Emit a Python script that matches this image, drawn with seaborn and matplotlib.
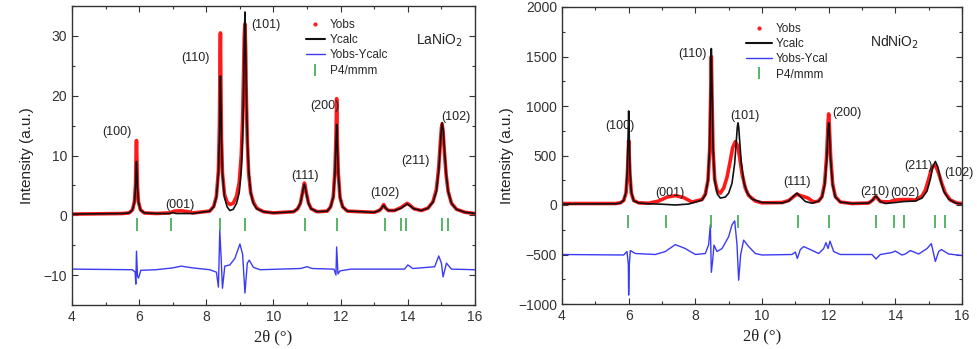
import numpy as np
import pandas as pd
import matplotlib
matplotlib.use("Agg")
import matplotlib.pyplot as plt
from matplotlib.lines import Line2D
from matplotlib.ticker import MultipleLocator
import seaborn as sns

sns.set_theme(style="white")
plt.rcParams['font.family'] = ['Liberation Sans', 'DejaVu Sans']

# ---------------- LaNiO2 (left) ----------------
la_calc_x = [4, 5.5, 5.7, 5.8, 5.86, 5.89, 5.91, 5.92, 5.93, 5.95, 5.98, 6.04, 6.15, 6.5, 6.9, 7.0, 7.1, 7.6,
             8.1, 8.22, 8.3, 8.36, 8.39, 8.41, 8.42, 8.43, 8.45, 8.48, 8.54, 8.62, 8.7,
             8.8, 8.9, 8.98, 9.04, 9.08, 9.11, 9.13, 9.15, 9.17, 9.19, 9.22, 9.26, 9.32, 9.4, 9.5, 9.7,
             10.0, 10.6, 10.72, 10.8, 10.86, 10.9, 10.92, 10.94, 10.98, 11.04, 11.12, 11.3,
             11.6, 11.7, 11.78, 11.83, 11.86, 11.88, 11.9, 11.93, 11.98, 12.06, 12.2,
             13.0, 13.15, 13.22, 13.28, 13.34, 13.42, 13.6, 13.8, 13.9, 13.98, 14.06, 14.18, 14.4,
             14.6, 14.75, 14.85, 14.92, 14.97, 15.0, 15.02, 15.05, 15.09, 15.14, 15.2, 15.3, 15.45, 15.7, 16]
la_calc_y = [0.2, 0.3, 0.4, 0.9, 2.2, 4.5, 7.8, 9, 7.8, 4.5, 2.2, 0.9, 0.4, 0.3, 0.3, 0.45, 0.3, 0.3,
             0.7, 1.4, 3, 7, 13, 21, 23.3, 21, 13, 7, 3, 1.4, 0.8,
             1.0, 2.0, 3.8, 7.5, 13, 21, 29, 34, 29, 21, 13, 7.5, 3.8, 2.0, 1.1, 0.6,
             0.4, 0.6, 1.1, 2, 3.6, 4.8, 5.2, 4.8, 3.6, 2, 1.1, 0.6,
             0.7, 1.4, 3, 7, 12, 15.2, 12, 7, 3, 1.4, 0.7,
             0.5, 0.8, 1.2, 1.7, 1.2, 0.8, 0.8, 1.2, 1.6, 1.9, 1.6, 1.1, 0.8,
             1.2, 2.2, 4, 7.5, 12, 14.5, 15.5, 14.5, 11, 7, 4, 2, 1, 0.5, 0.3]
la_obs_x = [4, 5.5, 5.7, 5.8, 5.86, 5.89, 5.91, 5.92, 5.93, 5.95, 5.98, 6.04, 6.15, 6.5, 6.9, 7.05, 7.25, 7.45,
            7.6, 8.1, 8.22, 8.3, 8.36, 8.39, 8.41, 8.42, 8.43, 8.45, 8.48, 8.54, 8.62, 8.7,
            8.8, 8.9, 8.98, 9.04, 9.08, 9.11, 9.13, 9.15, 9.17, 9.19, 9.22, 9.26, 9.32, 9.4, 9.5, 9.7,
            10.0, 10.6, 10.72, 10.8, 10.86, 10.9, 10.92, 10.94, 10.98, 11.04, 11.12, 11.3,
            11.6, 11.7, 11.78, 11.83, 11.86, 11.87, 11.88, 11.89, 11.9, 11.93, 11.98, 12.06, 12.2,
            13.0, 13.15, 13.22, 13.28, 13.34, 13.42, 13.6, 13.8, 13.9, 13.98, 14.06, 14.18, 14.4,
            14.6, 14.75, 14.85, 14.92, 14.97, 15.0, 15.02, 15.05, 15.09, 15.14, 15.2, 15.3, 15.45, 15.7, 16]
la_obs_y = [0.2, 0.3, 0.4, 0.9, 2.3, 5, 10.5, 12.5, 10, 4.8, 2.2, 0.9, 0.4, 0.3, 0.4, 0.7, 0.75, 0.6,
            0.4, 0.7, 1.5, 3.2, 7.5, 15, 27, 30.5, 24, 13, 7, 3.5, 2.2, 1.8,
            2.0, 3.2, 5.5, 10, 16, 24, 30, 32, 28, 20, 12.5, 7, 3.8, 2.2, 1.2, 0.6,
            0.4, 0.6, 1.1, 2, 3.7, 5, 5.4, 5, 3.7, 2.1, 1.1, 0.6,
            0.7, 1.4, 3.1, 7.5, 13, 16, 19.5, 16, 12.5, 7, 3, 1.4, 0.7,
            0.5, 0.8, 1.2, 1.8, 1.2, 0.8, 0.8, 1.3, 1.7, 2.0, 1.7, 1.1, 0.8,
            1.2, 2.3, 4.3, 8, 12.3, 14.6, 15.3, 14, 10.5, 6.8, 4, 2, 1, 0.5, 0.3]
la_diff_x = [4, 5.8, 5.88, 5.9, 5.92, 5.95, 5.98, 6.05, 6.5, 7.0, 7.25, 7.6, 8.1, 8.3, 8.36, 8.4, 8.44, 8.48,
             8.55, 8.7, 8.85, 9.0, 9.08, 9.15, 9.22, 9.28, 9.4, 9.6, 10.8, 11.0, 11.15, 11.8, 11.86, 11.88,
             11.92, 11.98, 12.3, 13.9, 14.0, 14.15, 14.8, 14.92, 15.0, 15.05, 15.15, 15.3, 16]
la_diff_y = [-9, -9.1, -9.5, -11.5, -6, -10.2, -10.5, -9.2, -9.1, -8.8, -8.5, -8.8, -9.1, -9.5, -12, -2.5, -7,
             -12.2, -8.5, -8.3, -7.2, -4.8, -6.5, -13, -8, -7.5, -8.7, -9.1, -8.9, -8.6, -8.9, -9, -10,
             -5.3, -9.8, -9.3, -9, -9, -8.3, -8.9, -8.6, -6.8, -8, -10.3, -8, -9, -9.1]
la_ticks = [5.93, 6.96, 8.42, 9.16, 10.93, 11.90, 13.31, 13.81, 13.96, 15.03, 15.19]
la_hkl = ["(100)", "(001)", "(110)", "(101)", "(111)", "(200)", "(102)", "(211)", "(102)"]
la_hkl_x = [5.34, 7.2, 7.67, 9.76, 10.93, 11.52, 13.31, 14.24, 15.43]
la_hkl_y = [14, 1.7, 26.3, 31.8, 6.5, 18.3, 3.7, 9, 16.5]

# ---------------- NdNiO2 (right) ----------------
nd_calc_x = [4, 5.6, 5.75, 5.85, 5.92, 5.96, 5.99, 6.0, 6.01, 6.04, 6.08, 6.15, 6.3, 6.6, 7.0, 7.4, 7.8,
             8.2, 8.3, 8.38, 8.43, 8.46, 8.48, 8.5, 8.53, 8.58, 8.66, 8.75,
             8.9, 9.0, 9.1, 9.18, 9.23, 9.26, 9.28, 9.3, 9.33, 9.38, 9.46, 9.56, 9.7, 10.0,
             10.6, 10.8, 10.95, 11.05, 11.15, 11.3, 11.5,
             11.7, 11.8, 11.88, 11.94, 11.98, 12.0, 12.02, 12.06, 12.12, 12.2, 12.35, 12.7,
             13.2, 13.32, 13.38, 13.42, 13.46, 13.55, 13.7, 14.0, 14.25, 14.6,
             14.8, 14.95, 15.05, 15.12, 15.2, 15.28, 15.35, 15.45, 15.6, 15.8, 16]
nd_calc_y = [10, 12, 20, 45, 130, 350, 800, 950, 800, 350, 130, 45, 20, 12, 8, 0, 10,
             50, 100, 250, 600, 1200, 1580, 1200, 600, 250, 110, 70,
             80, 120, 220, 420, 650, 790, 830, 790, 650, 420, 220, 120, 60, 25,
             20, 40, 90, 120, 85, 35, 18,
             40, 80, 200, 450, 750, 830, 750, 450, 200, 80, 30, 15,
             20, 50, 80, 90, 75, 35, 15, 25, 35, 40,
             70, 140, 260, 380, 440, 380, 260, 140, 60, 20, 10]
nd_obs_x = [4, 5.6, 5.75, 5.85, 5.92, 5.96, 5.99, 6.0, 6.01, 6.04, 6.08, 6.15, 6.3, 6.6, 6.9, 7.15, 7.4,
            7.65, 7.9, 8.2, 8.3, 8.38, 8.43, 8.46, 8.48, 8.5, 8.53, 8.58, 8.66, 8.75,
            8.85, 8.95, 9.05, 9.12, 9.2, 9.27, 9.33, 9.4, 9.5, 9.6, 9.8, 10.0,
            10.6, 10.8, 10.95, 11.05, 11.15, 11.25, 11.38, 11.55,
            11.7, 11.8, 11.88, 11.94, 11.98, 12.0, 12.02, 12.06, 12.12, 12.2, 12.35, 12.7,
            13.2, 13.32, 13.38, 13.42, 13.46, 13.55, 13.8, 14.0, 14.2, 14.4, 14.6,
            14.8, 14.9, 15.0, 15.08, 15.15, 15.22, 15.3, 15.4, 15.5, 15.65, 15.85, 16]
nd_obs_y = [15, 15, 22, 45, 120, 300, 560, 650, 550, 300, 120, 45, 22, 18, 40, 80, 95,
            75, 30, 55, 110, 250, 560, 1100, 1500, 1100, 560, 260, 140, 120,
            170, 280, 450, 580, 640, 600, 480, 320, 170, 95, 40, 22,
            25, 45, 85, 110, 95, 85, 70, 30,
            40, 85, 220, 500, 820, 920, 800, 480, 210, 85, 30, 15,
            20, 50, 75, 85, 70, 35, 30, 50, 55, 55, 50,
            90, 150, 260, 360, 400, 390, 320, 210, 120, 50, 20, 15]
nd_diff_x = [4, 5.85, 5.95, 5.99, 6.0, 6.02, 6.05, 6.2, 6.8, 7.1, 7.4, 7.7, 8.0, 8.3, 8.4, 8.45, 8.48, 8.52,
             8.56, 8.65, 8.8, 9.0, 9.1, 9.18, 9.25, 9.3, 9.36, 9.45, 9.6, 9.8, 10.0, 10.9, 11.0, 11.06,
             11.15, 11.25, 11.45, 11.7, 11.85, 11.92, 11.98, 12.04, 12.15, 12.35, 13.3, 13.42, 13.55, 13.9,
             14.0, 14.2, 14.3, 14.45, 14.7, 14.95, 15.08, 15.2, 15.3, 15.38, 15.6, 16]
nd_diff_y = [-500, -505, -470, -600, -910, -600, -460, -490, -500, -470, -400, -440, -500, -490, -400, -200,
             -680, -560, -405, -470, -440, -320, -200, -160, -400, -760, -500, -355, -420, -490, -505,
             -500, -475, -540, -450, -420, -450, -490, -440, -380, -440, -365, -470, -500, -500, -545,
             -500, -480, -465, -505, -495, -460, -495, -440, -390, -570, -470, -450, -495, -510]
nd_ticks = [5.99, 7.12, 8.47, 9.29, 11.08, 12.01, 13.43, 13.97, 14.27, 15.20, 15.50]
nd_hkl = ["(100)", "(001)", "(110)", "(101)", "(111)", "(200)", "(210)", "(002)", "(211)", "(102)"]
nd_hkl_x = [5.74, 7.24, 7.9, 9.5, 11.05, 12.56, 13.4, 14.3, 14.69, 15.92]
nd_hkl_y = [794, 125, 1521, 903, 236, 930, 135, 125, 395, 325]

RED, BLACK, BLUE, GREEN = "#ff1a1a", "#111111", "#3b3bf5", "#3aa84a"

fig = plt.figure(figsize=(9.77, 3.49), dpi=100)
axL = fig.add_axes([72/977, 44/349, 403/977, 299/349])
axR = fig.add_axes([562/977, 45/349, 400/977, 297/349])


def panel(ax, ox, oy, cx, cy, dx, dy, ticks, tick_lo, tick_hi, hkl, hx, hy, ylim, ymaj, ymin):
    sns.lineplot(x=ox, y=oy, ax=ax, color=RED, lw=2.6, legend=False)
    sns.lineplot(x=cx, y=cy, ax=ax, color=BLACK, lw=1.2, legend=False)
    sns.lineplot(x=dx, y=dy, ax=ax, color=BLUE, lw=1.0, legend=False)
    ax.vlines(ticks, tick_lo, tick_hi, color=GREEN, lw=1.2)
    for t, x, y in zip(hkl, hx, hy):
        ax.text(x, y, t, ha="center", va="center", fontsize=9, color="#222222")
    ax.set_xlim(4, 16)
    ax.set_ylim(*ylim)
    ax.xaxis.set_major_locator(MultipleLocator(2))
    ax.xaxis.set_minor_locator(MultipleLocator(1))
    ax.yaxis.set_major_locator(MultipleLocator(ymaj))
    ax.yaxis.set_minor_locator(MultipleLocator(ymin))
    ax.tick_params(which="both", direction="in", top=True, right=True, bottom=True, left=True,
                   labelsize=10, colors="#333333")
    ax.tick_params(which="major", length=4, width=0.8)
    ax.tick_params(which="minor", length=2.5, width=0.8)
    for s in ax.spines.values():
        s.set_color("#333333")
        s.set_linewidth(1.0)
    ax.set_xlabel("2θ (°)", fontsize=12, family=["Liberation Serif", "DejaVu Serif"], color="#222222")
    ax.set_ylabel("Intensity (a.u.)", fontsize=11, color="#222222")


panel(axL, la_obs_x, la_obs_y, la_calc_x, la_calc_y, la_diff_x, la_diff_y, la_ticks, -0.4, -2.6,
      la_hkl, la_hkl_x, la_hkl_y, (-15, 35), 10, 5)
panel(axR, nd_obs_x, nd_obs_y, nd_calc_x, nd_calc_y, nd_diff_x, nd_diff_y, nd_ticks, -100, -235,
      nd_hkl, nd_hkl_x, nd_hkl_y, (-1000, 2000), 500, 250)

axL.text(14.24, 29.3, "LaNiO$_2$", fontsize=10, ha="left", va="center", color="#222222")
axR.text(13.25, 1643, "NdNiO$_2$", fontsize=10, ha="left", va="center", color="#222222")


def handles(lab3):
    return [Line2D([], [], ls="none", marker="o", ms=2, color=RED, label="Yobs"),
            Line2D([], [], color=BLACK, lw=1.5, label="Ycalc"),
            Line2D([], [], color=BLUE, lw=1.0, label=lab3),
            Line2D([], [], ls="none", marker="|", ms=9, mew=1.2, color=GREEN, label="P4/mmm")]


axL.legend(handles=handles("Yobs-Ycalc"), loc="upper left", bbox_to_anchor=(0.56, 0.985), frameon=False,
           fontsize=8.5, handlelength=1.6, handletextpad=0.4, labelspacing=0.28, borderpad=0.2)
axR.legend(handles=handles("Yobs-Ycal"), loc="upper left", bbox_to_anchor=(0.44, 0.975), frameon=False,
           fontsize=8.5, handlelength=2.2, handletextpad=0.3, labelspacing=0.28, borderpad=0.2)
axL.yaxis.set_label_coords(-0.095, 0.5)
axR.yaxis.set_label_coords(-0.12, 0.5)

fig.savefig("out.png", dpi=100)
